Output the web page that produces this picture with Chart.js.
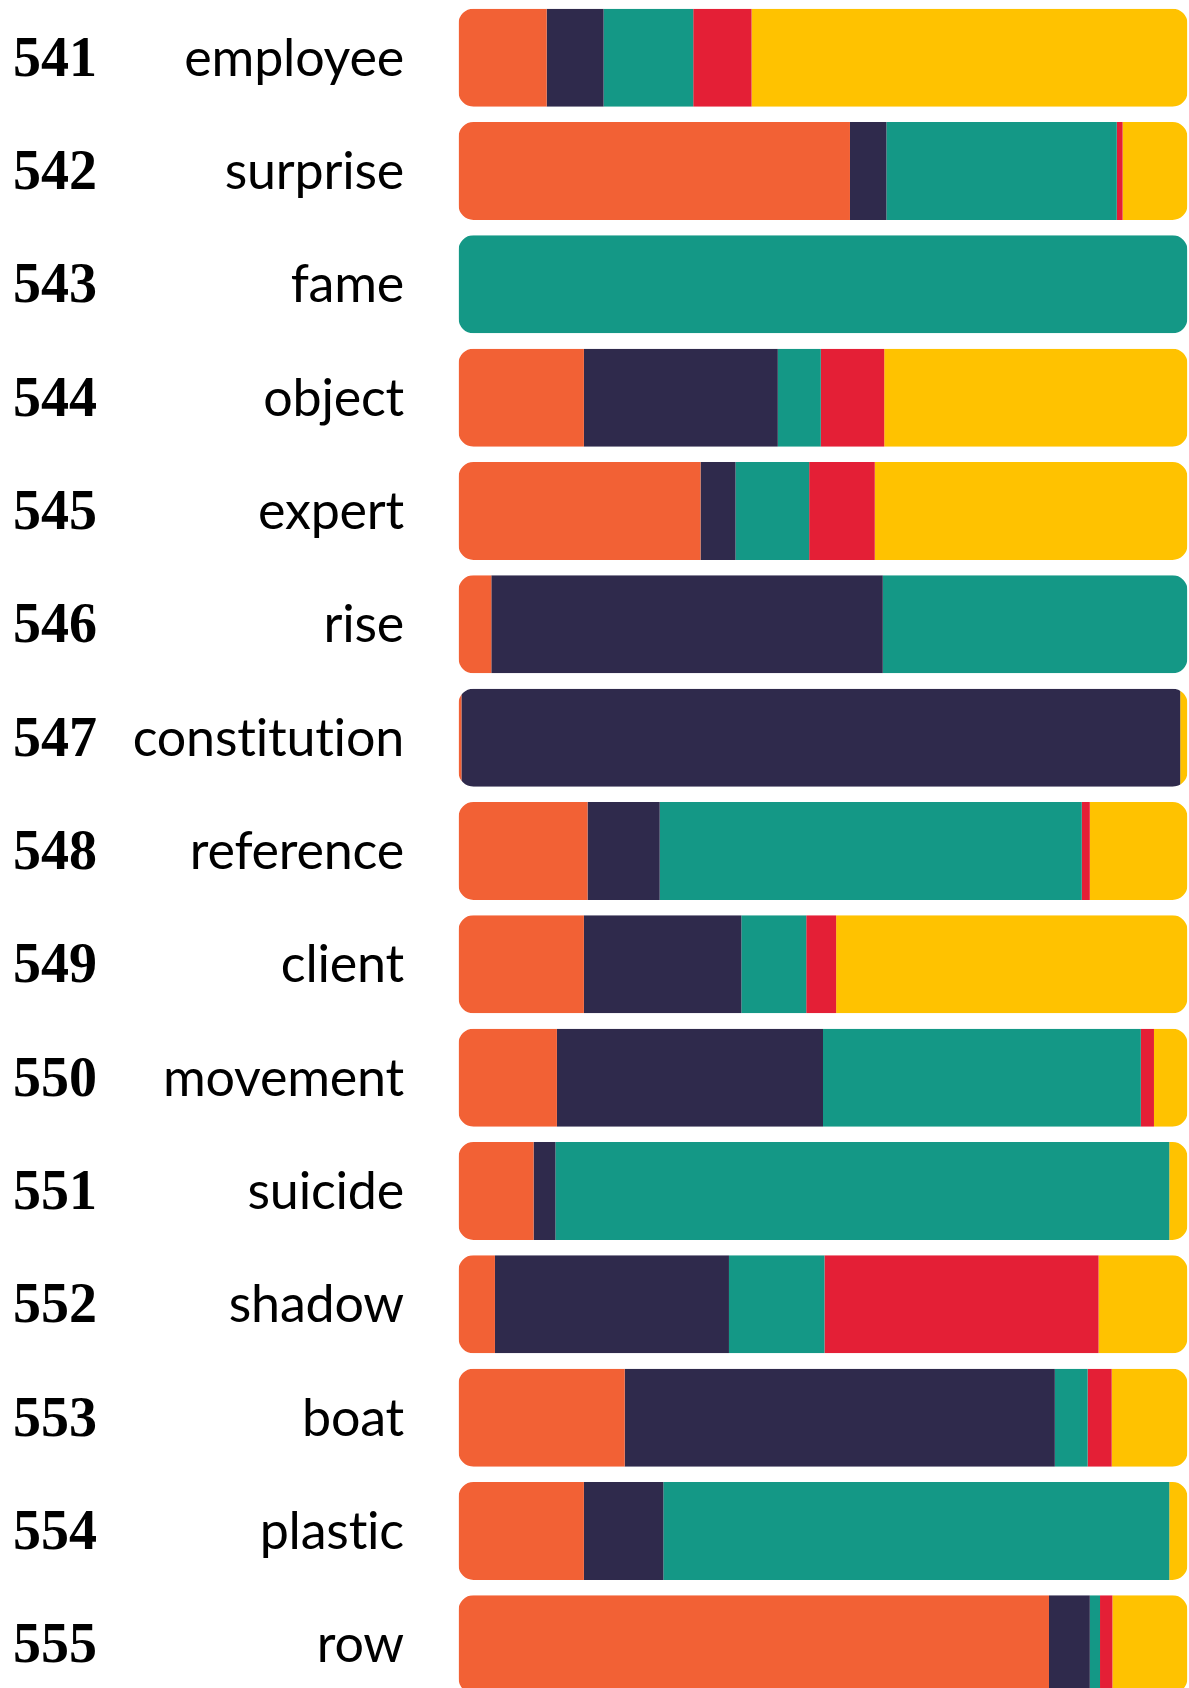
<!DOCTYPE html>
<html>
<head>
<meta charset="utf-8">
<script src="https://cdn.jsdelivr.net/npm/chart.js@4.4.1/dist/chart.umd.min.js"></script>
<style>
    html, body { margin: 0; padding: 0; background: #fff; overflow: hidden; }
    canvas { display: block; }
</style>
</head>
<body>
<canvas id="rankChart" width="1189" height="1702"></canvas>
<script>
// rank numbers and words, top to bottom
const ranks = ['541', '542', '543', '544', '545', '546', '547', '548', '549', '550', '551', '552', '553', '554', '555'];
const words = ['employee', 'surprise', 'fame', 'object', 'expert', 'rise', 'constitution', 'reference', 'client', 'movement', 'suicide', 'shadow', 'boat', 'plastic', 'row'];

// share of each part (percent of the bar)
const orange = [12.1, 53.7, 0, 17.2, 33.2, 4.5, 0.4, 17.7, 17.2, 13.5, 10.3, 5.0, 22.8, 17.2, 81.0];
const navy   = [7.8, 5.0, 0, 26.6, 4.8, 53.7, 98.6, 9.9, 21.6, 36.5, 3.0, 32.1, 59.0, 10.9, 5.6];
const teal   = [12.3, 31.6, 100, 5.9, 10.1, 41.8, 0, 57.9, 8.9, 43.6, 84.2, 13.1, 4.5, 69.4, 1.4];
const red    = [8.0, 0.8, 0, 8.7, 9.0, 0, 0, 1.1, 4.1, 1.8, 0, 37.6, 3.3, 0, 1.7];
const yellow = [59.8, 8.9, 0, 41.6, 42.9, 0, 1.0, 13.4, 48.2, 4.6, 2.5, 12.2, 10.4, 2.5, 10.3];

const colors = ['#F26135', '#2F2A4C', '#149886', '#E41F36', '#FFC200'];

// clip every stacked bar into one rounded rectangle
const roundClip = {
    id: 'roundClip',
    beforeDatasetsDraw(chart) {
        const ctx = chart.ctx;
        const x = chart.scales.x;
        const meta = chart.getDatasetMeta(0);
        const left = x.getPixelForValue(0);
        const right = x.getPixelForValue(100);
        ctx.save();
        ctx.beginPath();
        meta.data.forEach(bar => {
            const h = bar.height;
            ctx.roundRect(left, bar.y - h / 2, right - left, h, 15);
        });
        ctx.clip();
    },
    afterDatasetsDraw(chart) {
        chart.ctx.restore();
    }
};

// rank number + word on the left of each bar
const rowLabels = {
    id: 'rowLabels',
    afterDraw(chart) {
        const ctx = chart.ctx;
        const y = chart.scales.y;
        ctx.save();
        ctx.fillStyle = '#000';
        ctx.textBaseline = 'alphabetic';
        chart.data.labels.forEach((word, i) => {
            const cy = y.getPixelForTick(i) + 18;
            ctx.letterSpacing = '0px';
            ctx.font = 'bold 56px "Liberation Serif"';
            ctx.textAlign = 'left';
            ctx.fillText(ranks[i], 13, cy);
            // a tiny spacing keeps Lato from joining "ti"
            ctx.letterSpacing = '-0.2px';
            ctx.font = '52px Lato';
            ctx.textAlign = 'right';
            ctx.fillText(word, 404, cy);
        });
        ctx.restore();
    }
};

const parts = [orange, navy, teal, red, yellow];

new Chart(document.getElementById('rankChart'), {
    type: 'bar',
    data: {
        labels: words,
        datasets: parts.map((values, k) => ({
            data: values,
            backgroundColor: colors[k],
            borderWidth: 0,
            barPercentage: 0.865,
            categoryPercentage: 1
        }))
    },
    options: {
        indexAxis: 'y',
        responsive: false,
        animation: false,
        layout: { padding: { left: 458.5, right: 1.5, top: 1, bottom: 1 } },
        scales: {
            x: { stacked: true, min: 0, max: 100, display: false },
            y: { stacked: true, display: false }
        },
        plugins: {
            legend: { display: false },
            tooltip: { enabled: false }
        }
    },
    plugins: [roundClip, rowLabels]
});
</script>
</body>
</html>
